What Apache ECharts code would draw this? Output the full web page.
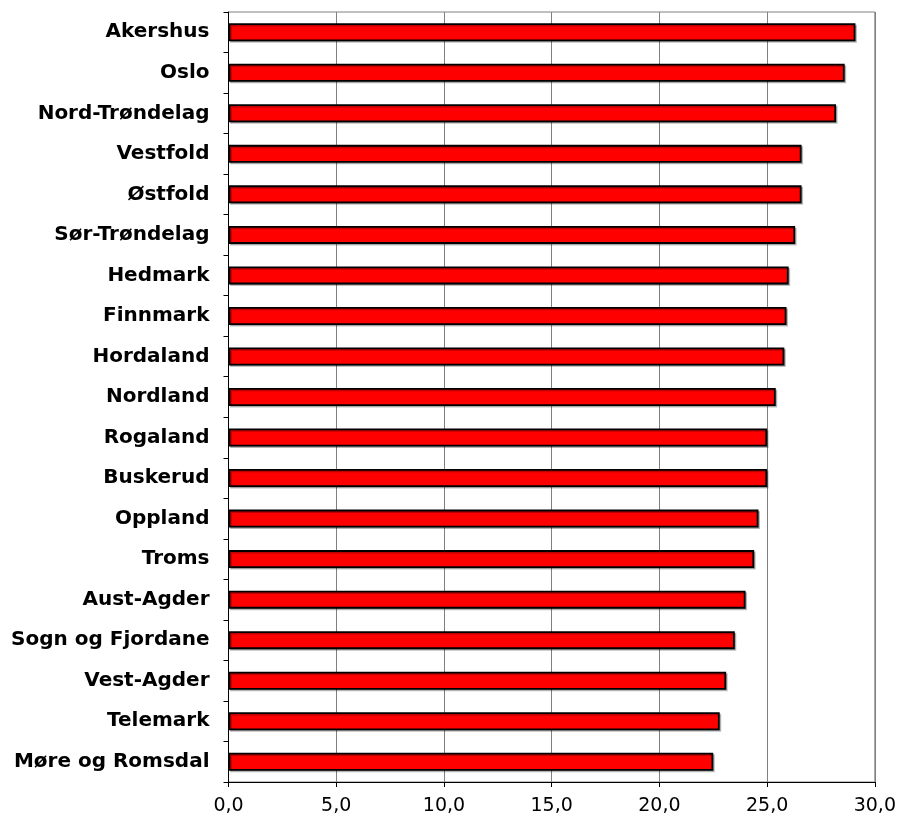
<!DOCTYPE html>
<html><head><meta charset="utf-8">
<script src="https://cdn.jsdelivr.net/npm/echarts@6/dist/echarts.min.js"></script>
<style>html,body{margin:0;padding:0;background:#fff}#c{width:899px;height:820px}</style>
</head><body><div id="c"></div>
<script>
const categories = ["Akershus","Oslo","Nord-Trøndelag","Vestfold","Østfold","Sør-Trøndelag","Hedmark","Finnmark","Hordaland","Nordland","Rogaland","Buskerud","Oppland","Troms","Aust-Agder","Sogn og Fjordane","Vest-Agder","Telemark","Møre og Romsdal"];
const values = [29.1,28.6,28.2,26.6,26.6,26.3,26.0,25.9,25.8,25.4,25.0,25.0,24.6,24.4,24.0,23.5,23.1,22.8,22.5];
const xTicks = [0,5,10,15,20,25,30];

const chart = echarts.init(document.getElementById('c'), null, {renderer:'canvas'});
chart.setOption({
  animation:false,
  backgroundColor:'#fff',
  grid:{left:228.5,right:23.5,top:12,bottom:38,show:true,borderColor:'#808080',borderWidth:1,containLabel:false},
  xAxis:{type:'value',min:xTicks[0],max:xTicks[xTicks.length-1],interval:5,
    axisLine:{show:true,lineStyle:{color:'#000',width:1}},
    axisTick:{show:true,length:5,lineStyle:{color:'#000'}},
    splitLine:{show:true,lineStyle:{color:'#808080',width:1}},
    axisLabel:{color:'#000',fontFamily:'DejaVu Sans, sans-serif',fontSize:19,margin:15,
      formatter:v=>v.toFixed(1).replace('.',',')}
  },
  yAxis:{type:'category',data:categories,inverse:true,
    axisLine:{show:true,lineStyle:{color:'#000',width:1}},
    axisTick:{show:true,length:5,alignWithLabel:false,lineStyle:{color:'#000'}},
    splitLine:{show:false},
    axisLabel:{color:'#000',fontFamily:'DejaVu Sans, sans-serif',fontWeight:'bold',fontSize:20,margin:19}
  },
  series:[{type:'bar',data:values,barWidth:18,
    itemStyle:{color:'#ff0000',borderColor:'#000',borderWidth:1.8,
      shadowColor:'rgba(0,0,0,0.25)',shadowOffsetX:1.5,shadowOffsetY:1.5,shadowBlur:0}
  }]
});
</script></body></html>
